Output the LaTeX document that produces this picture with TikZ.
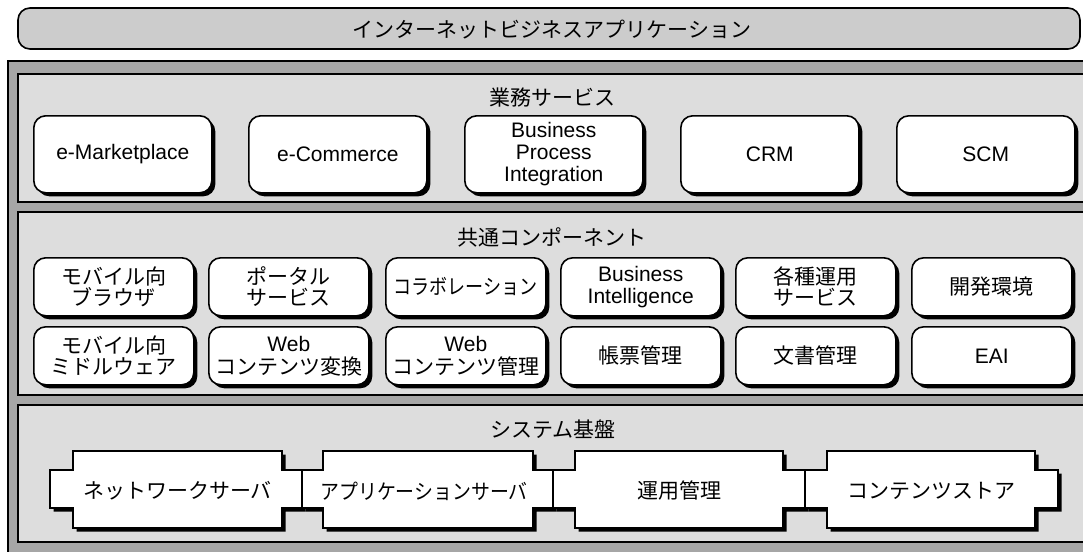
\documentclass[tikz,border=0pt]{standalone}
\usepackage{fontspec}
\usepackage{graphicx}
\setmainfont{Liberation Sans}
\newfontfamily\jp{Noto Sans CJK JP}
\usetikzlibrary{shadows}

\definecolor{bargray}{gray}{0.80}
\definecolor{framegray}{gray}{0.65}
\definecolor{layergray}{gray}{0.866}

\tikzset{
  txt/.style={font=\fontsize{21}{21.5}\selectfont, align=center, inner sep=0pt},
  jtxt/.style={txt, font=\fontsize{21}{21.5}\selectfont\jp},
  cardbase/.style={draw=black, line width=1.6pt, fill=white, rounded corners=12pt,
    anchor=north west, general shadow={fill=black, shadow xshift=3.5pt, shadow yshift=-3.5pt}},
  bigcard/.style={txt, cardbase, minimum width=178pt, minimum height=77pt},
  smallcard/.style={txt, cardbase, minimum width=160pt, minimum height=58pt},
  jsmallcard/.style={jtxt, cardbase, minimum width=160pt, minimum height=58pt},
  layer/.style={draw=black, line width=1.8pt, fill=layergray},
  plug/.style={draw=black, line width=1.6pt, fill=white, line join=miter},
}

% outline of a block with a lug on each side
\newcommand\plugpath[4]{(#2,451) -- (#3,451) -- (#3,470) -- (#4,470) -- (#4,508) -- (#3,508)
  -- (#3,528) -- (#2,528) -- (#2,508) -- (#1,508) -- (#1,470) -- (#2,470) -- cycle}

\begin{document}
\begin{tikzpicture}[x=1pt, y=-1pt]
\useasboundingbox (0,0) rectangle (1083,551);
\clip (0,0) rectangle (1083,551);
\fill[white] (0,0) rectangle (1083,551);

% application bar
\draw[line width=1.6pt, fill=bargray, rounded corners=12pt] (18,8) rectangle (1080,49);
\node[jtxt] (app) at (552,30) {インターネットビジネスアプリケーション};

% outer frame and the three layers
\draw[line width=1.8pt, fill=framegray] (8,61) rectangle (1100,570);
\draw[layer] (18,74) rectangle (1100,202);
\draw[layer] (18,212) rectangle (1100,395);
\draw[layer] (18,405) rectangle (1100,542);

% business services
\node[jtxt] (bizt) at (552,98) {業務サービス};
\node[bigcard] (b1) at (33,115) {e-Marketplace};
\node[bigcard] (b2) at (248,115) {e-Commerce};
\node[bigcard, font=\fontsize{21}{22}\selectfont] (b3) at (464,115) {Business\\Process\\Integration};
\node[bigcard] (b4) at (680,115) {CRM};
\node[bigcard] (b5) at (896,115) {SCM};

% common components
\node[jtxt] (comt) at (552,237) {共通コンポーネント};
\node[jsmallcard] (c1) at (33,257) {モバイル向\\ブラウザ};
\node[jsmallcard] (c2) at (208,257) {ポータル\\サービス};
\node[jsmallcard] (c3) at (385,257) {\scalebox{0.86}[1]{コラボレーション}};
\node[smallcard, font=\fontsize{21}{22}\selectfont] (c4) at (560,257) {Business\\Intelligence};
\node[jsmallcard] (c5) at (735,257) {各種運用\\サービス};
\node[jsmallcard] (c6) at (911,257) {開発環境};
\node[jsmallcard] (d1) at (33,326) {モバイル向\\ミドルウェア};
\node[smallcard, font=\fontsize{21}{23}\selectfont] (d2) at (208,326) {Web\\\jp コンテンツ変換};
\node[smallcard, font=\fontsize{21}{23}\selectfont] (d3) at (385,326) {Web\\\jp コンテンツ管理};
\node[jsmallcard] (d4) at (560,326) {帳票管理};
\node[jsmallcard] (d5) at (735,326) {文書管理};
\node[smallcard] (d6) at (911,326) {EAI};

% system platform
\node[jtxt] (syst) at (553,429) {システム基盤};
\begin{scope}[shift={(3.5,3.5)}]
  \fill[black] \plugpath{50}{73}{282}{302};
  \fill[black] \plugpath{302}{323}{533}{553};
  \fill[black] \plugpath{553}{575}{783}{805};
  \fill[black] \plugpath{805}{827}{1035}{1058};
\end{scope}
\draw[plug] \plugpath{50}{73}{282}{302};
\draw[plug] \plugpath{302}{323}{533}{553};
\draw[plug] \plugpath{553}{575}{783}{805};
\draw[plug] \plugpath{805}{827}{1035}{1058};
\node[jtxt] (s1) at (177.5,491) {ネットワークサーバ};
\node[jtxt] (s2) at (424,491) {\scalebox{0.9}[1]{アプリケーションサーバ}};
\node[jtxt] (s3) at (679,491) {運用管理};
\node[jtxt] (s4) at (931,491) {コンテンツストア};
\end{tikzpicture}
\end{document}
